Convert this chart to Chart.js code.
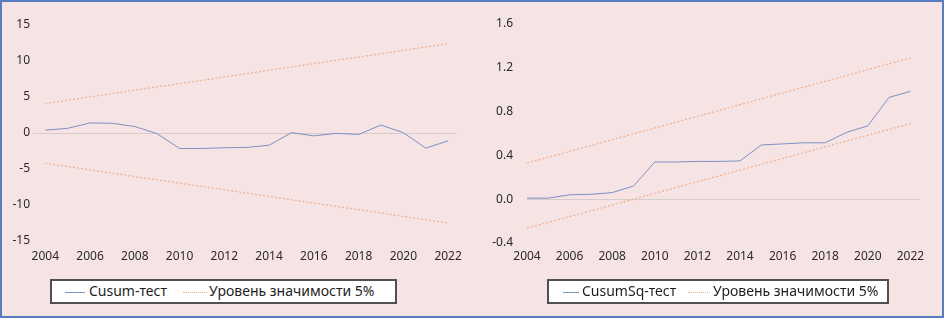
<!DOCTYPE html>
<html>
<head>
<meta charset="utf-8">
<script src="https://cdn.jsdelivr.net/npm/chart.js@4.4.0/dist/chart.umd.min.js"></script>
<style>
    html, body { margin: 0; padding: 0; }
    body {
        width: 944px; height: 318px; position: relative; overflow: hidden;
        background: #f6e4e4; font-family: "Noto Sans", sans-serif;
    }
    #frame {
        position: absolute; left: 0; top: 0; width: 944px; height: 318px;
        box-sizing: border-box; border: 2px solid #5a7cc0; pointer-events: none;
    }
    #left-wrap { position: absolute; left: 0; top: 0; width: 470px; height: 318px; }
    #right-wrap { position: absolute; left: 470px; top: 0; width: 474px; height: 318px; }
    .legend-box {
        position: absolute; top: 279px; height: 25px; box-sizing: border-box;
        background: #ffffff; border: 2px solid #505050;
    }
    .legend-line { position: absolute; top: 11px; width: 20px; height: 0; }
    .legend-text { position: absolute; top: 0px; font-size: 14px; line-height: 20px; color: #1e1e1e; white-space: nowrap; }
</style>
</head>
<body>
<div id="left-wrap"><canvas id="cusum-chart" width="470" height="318"></canvas></div>
<div id="right-wrap"><canvas id="cusumsq-chart" width="474" height="318"></canvas></div>

<div class="legend-box" style="left:50px; width:347px;">
    <div class="legend-line" style="left:13px; border-top:1px solid #7d8fc4;"></div>
    <div class="legend-text" id="leg-l1" style="left:37px;"></div>
    <div class="legend-line" style="left:131px; width:24px; border-top:1px dotted #f0ae88;"></div>
    <div class="legend-text" id="leg-l2" style="left:157px;"></div>
</div>
<div class="legend-box" style="left:547px; width:342px;">
    <div class="legend-line" style="left:14px; width:16px; border-top:1px solid #7d8fc4;"></div>
    <div class="legend-text" id="leg-r1" style="left:33px;"></div>
    <div class="legend-line" style="left:139px; width:22px; border-top:1px dotted #f0ae88;"></div>
    <div class="legend-text" id="leg-r2" style="left:164px;"></div>
</div>
<div id="frame"></div>

<script>
// Data
const years = [2004, 2005, 2006, 2007, 2008, 2009, 2010, 2011, 2012, 2013,
               2014, 2015, 2016, 2017, 2018, 2019, 2020, 2021, 2022];
const xTickYears = [2004, 2006, 2008, 2010, 2012, 2014, 2016, 2018, 2020, 2022];

const cusumValues = [0.4, 0.65, 1.4, 1.35, 0.9, -0.1, -2.15, -2.15, -2.05, -2.0,
                     -1.7, 0.05, -0.4, -0.05, -0.2, 1.1, 0.05, -2.1, -1.1];
// straight bound lines: only the end points are known, the rest is spanned
const cusumUpper = [4.1, null, null, null, null, null, null, null, null, null,
                    null, null, null, null, null, null, null, null, 12.4];
const cusumLower = [-4.2, null, null, null, null, null, null, null, null, null,
                    null, null, null, null, null, null, null, null, -12.5];
const cusumYTicks = [-15, -10, -5, 0, 5, 10, 15];

const cusumSqValues = [0.01, 0.01, 0.04, 0.045, 0.06, 0.12, 0.34, 0.34, 0.345, 0.345,
                       0.35, 0.495, 0.505, 0.515, 0.515, 0.61, 0.67, 0.93, 0.985];
const cusumSqUpper = [0.33, null, null, null, null, null, null, null, null, null,
                      null, null, null, null, null, null, null, null, 1.29];
const cusumSqLower = [-0.265, null, null, null, null, null, null, null, null, null,
                      null, null, null, null, null, null, null, null, 0.69];
const cusumSqYTicks = [-0.4, 0.0, 0.4, 0.8, 1.2, 1.6];

const leftLabels = ['Cusum-тест', 'Уровень значимости 5%'];
const rightLabels = ['CusumSq-тест', 'Уровень значимости 5%'];

document.getElementById('leg-l1').textContent = leftLabels[0];
document.getElementById('leg-l2').textContent = leftLabels[1];
document.getElementById('leg-r1').textContent = rightLabels[0];
document.getElementById('leg-r2').textContent = rightLabels[1];

const lineColor = '#7d8fc4';
const boundColor = '#f0ae88';
const tickFont = { family: 'Noto Sans', size: 12 };
const tickColor = '#2a2a2a';

function toPoints(values) {
    return years.map((yr, i) => ({ x: yr, y: values[i] }));
}

function makeDatasets(values, upper, lower, names) {
    const bound = {
        borderColor: boundColor, borderWidth: 1.2, borderDash: [2, 2],
        pointRadius: 0, spanGaps: true, tension: 0
    };
    return [
        { label: names[0], data: toPoints(values), borderColor: lineColor,
          borderWidth: 1, pointRadius: 0, tension: 0 },
        Object.assign({ label: names[1], data: toPoints(upper) }, bound),
        Object.assign({ label: names[1] + ' ', data: toPoints(lower) }, bound)
    ];
}

function makeChart(id, cfg) {
    const ctx = document.getElementById(id).getContext('2d');
    return new Chart(ctx, {
        type: 'line',
        data: { datasets: makeDatasets(cfg.values, cfg.upper, cfg.lower, cfg.names) },
        options: {
            responsive: false,
            animation: false,
            events: [],
            layout: { padding: cfg.padding },
            plugins: { legend: { display: false }, tooltip: { enabled: false } },
            scales: {
                x: {
                    type: 'linear',
                    min: cfg.xMin,
                    max: cfg.xMax,
                    grid: { display: false, drawTicks: false },
                    border: { display: false },
                    afterBuildTicks: s => { s.ticks = xTickYears.map(v => ({ value: v })); },
                    afterFit: s => { s.height = 25; },
                    ticks: {
                        font: tickFont, color: tickColor, padding: cfg.xPad,
                        maxRotation: 0, autoSkip: false,
                        callback: v => String(v)
                    }
                },
                y: {
                    min: cfg.yTicks[0],
                    max: cfg.yTicks[cfg.yTicks.length - 1],
                    afterBuildTicks: s => { s.ticks = cfg.yTicks.map(v => ({ value: v })); },
                    afterFit: s => { s.width = cfg.yWidth; },
                    grid: {
                        drawTicks: false,
                        color: c => Math.abs(c.tick.value) < 1e-9 ? '#d6cccc' : 'rgba(0,0,0,0)'
                    },
                    border: { display: false },
                    ticks: {
                        font: tickFont, color: tickColor, padding: cfg.yPad,
                        callback: cfg.fmt
                    }
                }
            }
        }
    });
}

makeChart('cusum-chart', {
    values: cusumValues, upper: cusumUpper, lower: cusumLower, names: leftLabels,
    yTicks: cusumYTicks, fmt: v => String(v),
    xMin: 2003.45, xMax: 2022.4,
    padding: { top: 25, left: 0, right: 7, bottom: 52 },
    yWidth: 33, yPad: 3, xPad: 8
});

makeChart('cusumsq-chart', {
    values: cusumSqValues, upper: cusumSqUpper, lower: cusumSqLower, names: rightLabels,
    yTicks: cusumSqYTicks, fmt: v => Number(v).toFixed(1),
    xMin: 2004, xMax: 2022.45,
    padding: { top: 24, left: 0, right: 24, bottom: 50 },
    yWidth: 57, yPad: 14, xPad: 6
});
</script>
</body>
</html>
